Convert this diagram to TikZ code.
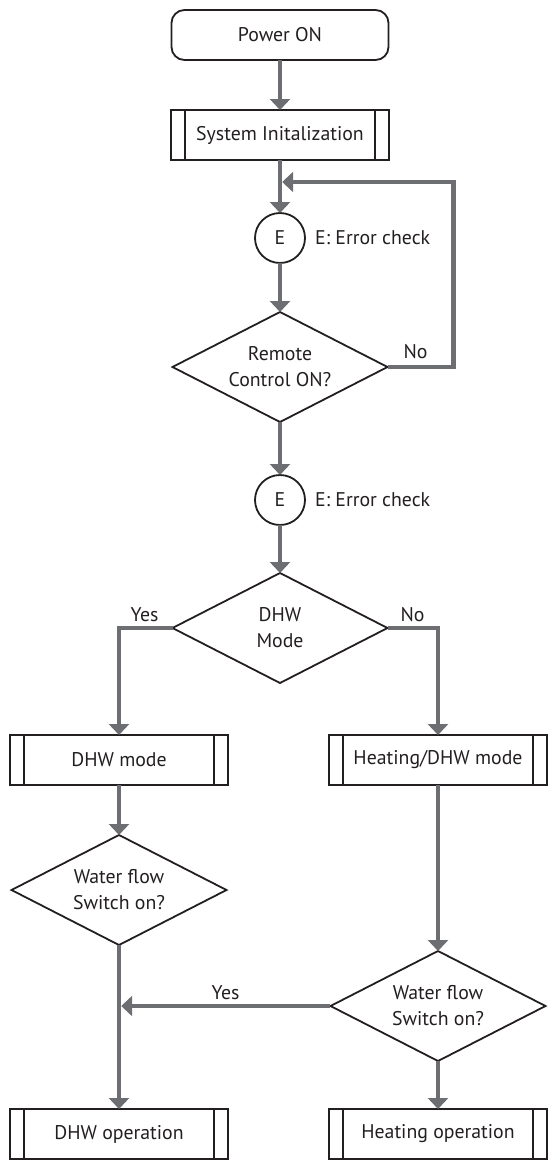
\documentclass[tikz,border=0pt]{standalone}
\usepackage{fontspec}
\setmainfont{PT Sans}
\usetikzlibrary{arrows.meta,positioning,shapes.geometric}
\definecolor{flowgray}{HTML}{6D6E71}
\definecolor{inkblack}{HTML}{231F20}

\begin{document}
\begin{tikzpicture}[
			font=\fontsize{19.8}{26}\selectfont,
			text=inkblack,
			node distance=50pt,
			start/.style={draw=inkblack, line width=1.8pt, rounded corners=13pt, align=center,
				minimum width=217pt, minimum height=50pt, outer sep=0pt},
			proc/.style={draw=inkblack, line width=1.8pt, align=center, minimum width=218pt,
				minimum height=50pt, outer sep=0pt,
				path picture={\draw[inkblack, line width=1.8pt]
					([xshift=14pt]path picture bounding box.north west) -- ([xshift=14pt]path picture bounding box.south west)
					([xshift=-14pt]path picture bounding box.north east) -- ([xshift=-14pt]path picture bounding box.south east);}},
			check/.style={draw=inkblack, line width=1.8pt, circle, minimum size=50pt,
				inner sep=0pt, outer sep=0pt},
			decide/.style={draw=inkblack, line width=1.8pt, diamond, aspect=1.95, align=center,
				minimum width=215pt, minimum height=110pt, inner sep=0pt, outer sep=0pt},
			lbl/.style={inner sep=0pt},
			arr/.style={-{Triangle[length=11pt,width=20pt]}, draw=flowgray, line width=4.5pt}
			]
			\useasboundingbox (0,0) rectangle (549pt,-1164pt);

			\node[start] (power) at (280pt,-35pt) {Power ON};
			\node[proc, below=50pt of power] (init) {System Initalization};
			\node[check, below=53pt of init] (e1) {E};
			\node[decide, below=49pt of e1] (remote) {Remote\\Control ON?};
			\node[check, below=53pt of remote] (e2) {E};
			\node[decide, below=48pt of e2] (dhw) {DHW\\Mode};

			\node[proc, below=52pt of dhw, xshift=-161pt] (dhwmode) {DHW mode};
			\node[proc, below=52pt of dhw, xshift=158pt] (heatmode) {Heating/DHW mode};
			\node[decide, below=50pt of dhwmode] (flowa) {Water flow\\Switch on?};
			\node[decide, below=166pt of heatmode] (flowb) {Water flow\\Switch on?};
			\node[proc, below=164pt of flowa] (dhwop) {DHW operation};
			\node[proc, below=48pt of flowb] (heatop) {Heating operation};

			\coordinate (back) at ([shift={(2.2pt,-22pt)}]init.south);
			\coordinate (join) at ([xshift=2.2pt]flowa.south |- flowb.west);

			\draw[arr] (power) -- (init);
			\draw[arr] (init) -- (e1);
			\draw[arr] (e1) -- (remote);
			\draw[arr] (remote) -- (e2);
			\draw[arr] (e2) -- (dhw);
			\draw[arr] (remote.east) -- ++(66pt,0) |- (back);
			\draw[arr] (dhw.west) -| (dhwmode);
			\draw[arr] (dhw.east) -| (heatmode);
			\draw[arr] (dhwmode) -- (flowa);
			\draw[arr] (flowa) -- (dhwop);
			\draw[arr] (heatmode) -- (flowb);
			\draw[arr] (flowb) -- (heatop);
			\draw[arr] (flowb) -- (join);

			\node[lbl, right=10pt of e1] {E: Error check};
			\node[lbl, right=10pt of e2] {E: Error check};
			\node[lbl, above=8pt of remote.east, xshift=28pt] {No};
			\node[lbl, above=6pt of dhw.west, xshift=-28pt] {Yes};
			\node[lbl, above=6pt of dhw.east, xshift=25pt] {No};
			\node[lbl, above=6.5pt of flowb.west, xshift=-105pt] {Yes};
		\end{tikzpicture}
\end{document}
